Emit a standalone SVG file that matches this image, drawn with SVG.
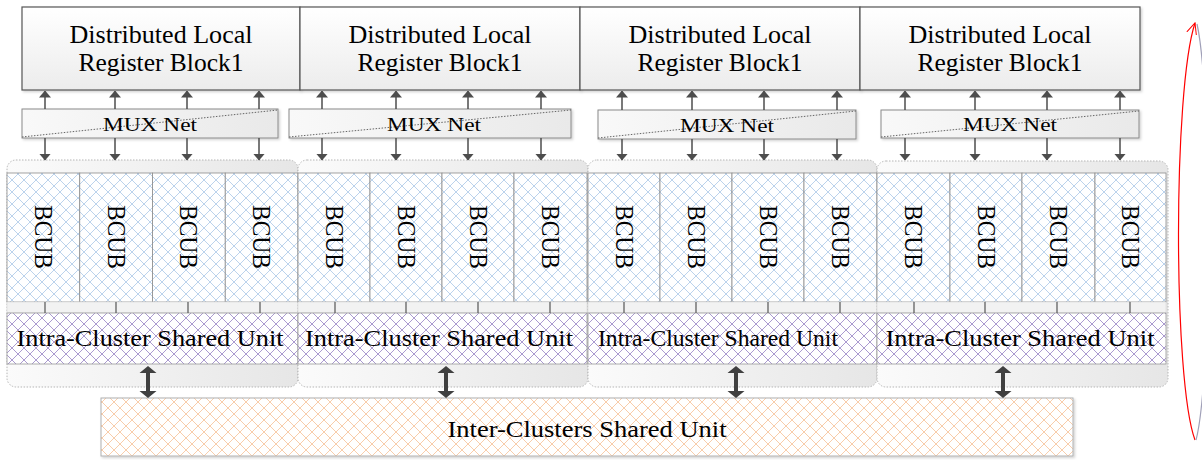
<svg xmlns="http://www.w3.org/2000/svg" width="1202" height="460" viewBox="0 0 1202 460">
  <defs>
    <linearGradient id="gBox" x1="0" y1="0" x2="0" y2="1">
      <stop offset="0" stop-color="#ffffff"/>
      <stop offset="1" stop-color="#ececec"/>
    </linearGradient>
    <linearGradient id="gMux" x1="0" y1="0" x2="1" y2="0">
      <stop offset="0" stop-color="#f9f9f9"/>
      <stop offset="1" stop-color="#e9e9e9"/>
    </linearGradient>
    <linearGradient id="gCluster" x1="0" y1="0" x2="1" y2="0">
      <stop offset="0" stop-color="#fbfbfb"/>
      <stop offset="1" stop-color="#e6e6e6"/>
    </linearGradient>
    <pattern id="hBlue" width="12" height="12" patternUnits="userSpaceOnUse">
      <rect width="12" height="12" fill="#ffffff"/>
      <path d="M0,0 L12,12 M12,0 L0,12" stroke="#bcd3ec" stroke-width="1"/>
    </pattern>
    <pattern id="hPurple" width="12" height="12" patternUnits="userSpaceOnUse">
      <rect width="12" height="12" fill="#ffffff"/>
      <path d="M0,0 L12,12 M12,0 L0,12" stroke="#ab9bd0" stroke-width="1"/>
    </pattern>
    <pattern id="hOrange" width="12" height="12" patternUnits="userSpaceOnUse">
      <rect width="12" height="12" fill="#ffffff"/>
      <path d="M0,0 L12,12 M12,0 L0,12" stroke="#f8cdab" stroke-width="1"/>
    </pattern>
    <filter id="shadow" x="-5%" y="-10%" width="110%" height="130%">
      <feDropShadow dx="1.5" dy="1.5" stdDeviation="1" flood-color="#000000" flood-opacity="0.18"/>
    </filter>
    <marker id="ah" markerWidth="7" markerHeight="12" refX="6.5" refY="6" orient="auto" markerUnits="userSpaceOnUse">
      <path d="M0,0 L7,6 L0,12 Z" fill="#4d4d4d"/>
    </marker>
    <!-- double-headed bold link between cluster and inter-cluster unit -->
    <path id="dbl" d="M0,-16 L8.5,-9 L2,-9 L2,9 L8.5,9 L0,16 L-8.5,9 L-2,9 L-2,-9 L-8.5,-9 Z" fill="#404040"/>
    <marker id="ahRed" markerWidth="12" markerHeight="12" refX="11" refY="6" orient="auto" markerUnits="userSpaceOnUse">
      <path d="M0,1 L11,6 L0,11" fill="none" stroke="#ff0000" stroke-width="1"/>
    </marker>
    <style>
      .reg { fill: url(#gBox); stroke: #555555; stroke-width: 1.2; filter: url(#shadow); }
      .mux { fill: url(#gMux); stroke: #8a8a8a; stroke-width: 1; filter: url(#shadow); }
      .muxdiag { stroke: #666666; stroke-width: 1; stroke-dasharray: 1.5,1.5; fill: none; }
      .cluster { fill: url(#gCluster); stroke: #b5b5b5; stroke-width: 1; stroke-dasharray: 1.5,1.5; }
      .bcub { fill: url(#hBlue); stroke: #8c8c8c; stroke-width: 0.8; }
      .intra { fill: url(#hPurple); stroke: #9a9a9a; stroke-width: 0.8; }
      .inter { fill: url(#hOrange); stroke: #b0b0b0; stroke-width: 1; filter: url(#shadow); }
      .tick { stroke: #555555; stroke-width: 1.2; }
      .band { fill: #f2f2f2; stroke: #d8d8d8; stroke-width: 0.6; }
      .thin { stroke: #4d4d4d; stroke-width: 1.5; fill: none; marker-end: url(#ah); }
      text { font-family: "Liberation Serif", "Times New Roman", serif; fill: #000000; text-anchor: middle; }
      .reg-t { font-size: 25px; }
      .mux-t { font-size: 19px; }
      .bcub-t { font-size: 26px; }
      .unit-t { font-size: 23px; }
    </style>
  </defs>

  <!-- Distributed local register blocks -->
  <g id="reg1"><rect class="reg" x="22" y="7" width="278" height="83"/><text class="reg-t" x="161" y="43" textLength="183" lengthAdjust="spacingAndGlyphs">Distributed Local</text><text class="reg-t" x="161" y="71" textLength="165" lengthAdjust="spacingAndGlyphs">Register Block1</text></g>
  <g id="reg2"><rect class="reg" x="300" y="7" width="280" height="83"/><text class="reg-t" x="440" y="43" textLength="183" lengthAdjust="spacingAndGlyphs">Distributed Local</text><text class="reg-t" x="440" y="71" textLength="165" lengthAdjust="spacingAndGlyphs">Register Block1</text></g>
  <g id="reg3"><rect class="reg" x="580" y="7" width="280" height="83"/><text class="reg-t" x="720" y="43" textLength="183" lengthAdjust="spacingAndGlyphs">Distributed Local</text><text class="reg-t" x="720" y="71" textLength="165" lengthAdjust="spacingAndGlyphs">Register Block1</text></g>
  <g id="reg4"><rect class="reg" x="860" y="7" width="280" height="83"/><text class="reg-t" x="1000" y="43" textLength="183" lengthAdjust="spacingAndGlyphs">Distributed Local</text><text class="reg-t" x="1000" y="71" textLength="165" lengthAdjust="spacingAndGlyphs">Register Block1</text></g>

  <!-- MUX nets -->
  <g id="mux1"><rect class="mux" x="22" y="109" width="256" height="29"/><path class="muxdiag" d="M22,137 L278,110"/><text class="mux-t" x="150" y="131" textLength="94" lengthAdjust="spacingAndGlyphs">MUX Net</text></g>
  <g id="mux2"><rect class="mux" x="289" y="109" width="282" height="29"/><path class="muxdiag" d="M289,137 L571,110"/><text class="mux-t" x="434" y="131" textLength="94" lengthAdjust="spacingAndGlyphs">MUX Net</text></g>
  <g id="mux3"><rect class="mux" x="598" y="110" width="258" height="29"/><path class="muxdiag" d="M598,138 L856,111"/><text class="mux-t" x="727" y="132" textLength="94" lengthAdjust="spacingAndGlyphs">MUX Net</text></g>
  <g id="mux4"><rect class="mux" x="881" y="110" width="258" height="28"/><path class="muxdiag" d="M881,137 L1139,111"/><text class="mux-t" x="1010" y="131" textLength="94" lengthAdjust="spacingAndGlyphs">MUX Net</text></g>

  <!-- Cluster 1 -->
  <g id="cluster1">
    <rect class="cluster" x="7" y="160" width="291" height="227" rx="9"/>
    <rect class="bcub" x="7" y="173" width="72.75" height="129"/>
    <rect class="bcub" x="79.75" y="173" width="72.75" height="129"/>
    <rect class="bcub" x="152.5" y="173" width="72.75" height="129"/>
    <rect class="bcub" x="225.25" y="173" width="72.75" height="129"/>
    <rect class="band" x="7" y="302" width="291" height="11"/>
    <rect class="intra" x="7" y="313" width="291" height="51"/>
    <text class="bcub-t" transform="translate(44,237) rotate(90)" y="9" textLength="64" lengthAdjust="spacingAndGlyphs">BCUB</text>
    <text class="bcub-t" transform="translate(116.5,237) rotate(90)" y="9" textLength="64" lengthAdjust="spacingAndGlyphs">BCUB</text>
    <text class="bcub-t" transform="translate(189,237) rotate(90)" y="9" textLength="64" lengthAdjust="spacingAndGlyphs">BCUB</text>
    <text class="bcub-t" transform="translate(261.5,237) rotate(90)" y="9" textLength="64" lengthAdjust="spacingAndGlyphs">BCUB</text>
    <text class="unit-t" x="150" y="346" textLength="267" lengthAdjust="spacingAndGlyphs">Intra-Cluster Shared Unit</text>
  </g>

  <!-- Cluster 2 -->
  <g id="cluster2">
    <rect class="cluster" x="298" y="160" width="290" height="227" rx="9"/>
    <rect class="bcub" x="298" y="173" width="72" height="129"/>
    <rect class="bcub" x="370" y="173" width="72" height="129"/>
    <rect class="bcub" x="442" y="173" width="72" height="129"/>
    <rect class="bcub" x="514" y="173" width="73" height="129"/>
    <rect class="band" x="298" y="302" width="289" height="11"/>
    <rect class="intra" x="298" y="313" width="289" height="51"/>
    <text class="bcub-t" transform="translate(334.5,237) rotate(90)" y="9" textLength="64" lengthAdjust="spacingAndGlyphs">BCUB</text>
    <text class="bcub-t" transform="translate(406.5,237) rotate(90)" y="9" textLength="64" lengthAdjust="spacingAndGlyphs">BCUB</text>
    <text class="bcub-t" transform="translate(478.5,237) rotate(90)" y="9" textLength="64" lengthAdjust="spacingAndGlyphs">BCUB</text>
    <text class="bcub-t" transform="translate(551,237) rotate(90)" y="9" textLength="64" lengthAdjust="spacingAndGlyphs">BCUB</text>
    <text class="unit-t" x="439" y="346" textLength="268" lengthAdjust="spacingAndGlyphs">Intra-Cluster Shared Unit</text>
  </g>

  <!-- Cluster 3 -->
  <g id="cluster3">
    <rect class="cluster" x="588" y="160" width="289" height="227" rx="9"/>
    <rect class="bcub" x="588" y="173" width="72" height="129"/>
    <rect class="bcub" x="660" y="173" width="72" height="129"/>
    <rect class="bcub" x="732" y="173" width="72" height="129"/>
    <rect class="bcub" x="804" y="173" width="73" height="129"/>
    <rect class="band" x="588" y="302" width="289" height="11"/>
    <rect class="intra" x="588" y="313" width="289" height="51"/>
    <text class="bcub-t" transform="translate(624.5,237) rotate(90)" y="9" textLength="64" lengthAdjust="spacingAndGlyphs">BCUB</text>
    <text class="bcub-t" transform="translate(696.5,237) rotate(90)" y="9" textLength="64" lengthAdjust="spacingAndGlyphs">BCUB</text>
    <text class="bcub-t" transform="translate(768.5,237) rotate(90)" y="9" textLength="64" lengthAdjust="spacingAndGlyphs">BCUB</text>
    <text class="bcub-t" transform="translate(841,237) rotate(90)" y="9" textLength="64" lengthAdjust="spacingAndGlyphs">BCUB</text>
    <text class="unit-t" x="718" y="346" textLength="240" lengthAdjust="spacingAndGlyphs">Intra-Cluster Shared Unit</text>
  </g>

  <!-- Cluster 4 -->
  <g id="cluster4">
    <rect class="cluster" x="877" y="161" width="291" height="226" rx="9"/>
    <rect class="bcub" x="877" y="173" width="73" height="129"/>
    <rect class="bcub" x="950" y="173" width="72" height="129"/>
    <rect class="bcub" x="1022" y="173" width="73" height="129"/>
    <rect class="bcub" x="1095" y="173" width="71" height="129"/>
    <rect class="band" x="877" y="302" width="289" height="11"/>
    <rect class="intra" x="877" y="313" width="289" height="51"/>
    <text class="bcub-t" transform="translate(914,237) rotate(90)" y="9" textLength="64" lengthAdjust="spacingAndGlyphs">BCUB</text>
    <text class="bcub-t" transform="translate(986.5,237) rotate(90)" y="9" textLength="64" lengthAdjust="spacingAndGlyphs">BCUB</text>
    <text class="bcub-t" transform="translate(1059,237) rotate(90)" y="9" textLength="64" lengthAdjust="spacingAndGlyphs">BCUB</text>
    <text class="bcub-t" transform="translate(1131,237) rotate(90)" y="9" textLength="64" lengthAdjust="spacingAndGlyphs">BCUB</text>
    <text class="unit-t" x="1020" y="346" textLength="269" lengthAdjust="spacingAndGlyphs">Intra-Cluster Shared Unit</text>
  </g>

  <!-- Inter-cluster shared unit -->
  <g id="inter">
    <rect class="inter" x="101" y="398" width="972" height="58"/>
    <text class="unit-t" x="587" y="437" textLength="279" lengthAdjust="spacingAndGlyphs">Inter-Clusters Shared Unit</text>
  </g>

  <!-- Connectors -->
  <g id="connectors">
    <!-- MUX to register blocks (up) and to clusters (down) -->
    <g>
      <path class="thin" d="M45,109 V91"/><path class="thin" d="M45,138 V160"/>
      <path class="thin" d="M115,109 V91"/><path class="thin" d="M115,138 V160"/>
      <path class="thin" d="M187,109 V91"/><path class="thin" d="M187,138 V160"/>
      <path class="thin" d="M259,109 V91"/><path class="thin" d="M259,138 V160"/>
      <path class="thin" d="M322,109 V91"/><path class="thin" d="M322,138 V160"/>
      <path class="thin" d="M396,109 V91"/><path class="thin" d="M396,138 V160"/>
      <path class="thin" d="M468,109 V91"/><path class="thin" d="M468,138 V160"/>
      <path class="thin" d="M541,109 V91"/><path class="thin" d="M541,138 V160"/>
      <path class="thin" d="M622,110 V91"/><path class="thin" d="M622,139 V160"/>
      <path class="thin" d="M692,110 V91"/><path class="thin" d="M692,139 V160"/>
      <path class="thin" d="M764,110 V91"/><path class="thin" d="M764,139 V160"/>
      <path class="thin" d="M837,110 V91"/><path class="thin" d="M837,139 V160"/>
      <path class="thin" d="M905,110 V91"/><path class="thin" d="M905,138 V160"/>
      <path class="thin" d="M975,110 V91"/><path class="thin" d="M975,138 V160"/>
      <path class="thin" d="M1047,110 V91"/><path class="thin" d="M1047,138 V160"/>
      <path class="thin" d="M1120,110 V91"/><path class="thin" d="M1120,138 V160"/>
    </g>
    <!-- BCUB to intra-cluster unit links -->
    <g>
      <path class="tick" d="M45,302 V313 M116,302 V313 M188,302 V313 M260,302 V313"/>
      <path class="tick" d="M335,302 V313 M406,302 V313 M478,302 V313 M550,302 V313"/>
      <path class="tick" d="M624,302 V313 M696,302 V313 M768,302 V313 M840,302 V313"/>
      <path class="tick" d="M914,302 V313 M985,302 V313 M1057,302 V313 M1130,302 V313"/>
    </g>
    <!-- Intra-cluster to inter-cluster links -->
    <g>
      <use href="#dbl" x="148" y="382"/>
      <use href="#dbl" x="446" y="382"/>
      <use href="#dbl" x="736" y="382"/>
      <use href="#dbl" x="1003" y="382"/>
    </g>
    <!-- Side arc -->
    <path d="M1195,440 C1173,380 1173,90 1195,23" fill="none" stroke="#ff0000" stroke-width="1.2" marker-end="url(#ahRed)"/>
    <path d="M1196,440 C1212,380 1212,90 1197,24" fill="none" stroke="#a0a0b8" stroke-width="1.2"/>
  </g>
</svg>
